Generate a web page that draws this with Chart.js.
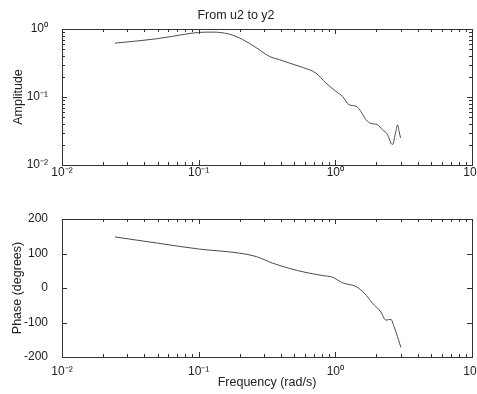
<!DOCTYPE html>
<html><head><meta charset="utf-8">
<script src="https://cdn.jsdelivr.net/npm/chart.js@4"></script>
<style>
html,body{margin:0;padding:0;background:#fff;width:477px;height:394px;overflow:hidden}
#top{position:absolute;left:0;top:0;width:477px;height:194px}
#bot{position:absolute;left:0;top:194px;width:477px;height:200px}
</style></head><body>
<div id="top"><canvas id="c1"></canvas></div>
<div id="bot"><canvas id="c2"></canvas></div>
<script>
// ---- data ----
const chartTitle = 'From u2 to y2';
const ampFreq = [0.0244,0.05,0.08,0.1,0.127,0.142,0.168,0.21,0.264,0.33,0.39,0.46,0.577,0.72,0.855,1.01,1.13,1.26,1.42,1.54,1.68,1.82,2.04,2.21,2.41,2.55,2.62,2.77,2.85,2.93,3.0];
const amp     = [0.62,0.72,0.84,0.89,0.90,0.89,0.84,0.70,0.53,0.395,0.354,0.316,0.272,0.225,0.16,0.121,0.102,0.077,0.073,0.061,0.046,0.041,0.039,0.033,0.028,0.021,0.020,0.031,0.039,0.031,0.025];
const phaseFreq = [0.0244,0.05,0.1,0.199,0.264,0.348,0.46,0.61,0.81,0.957,1.13,1.42,1.63,1.87,2.15,2.34,2.55,2.69,2.85,2.95,3.02];
const phase     = [148,130,113,101,91,72,57,45,36,31,15,4,-15,-44,-69,-93,-91,-112,-141,-160,-172];
const freqTicks = [0.01,0.1,1,10];
const freqTickLabels = ['10\u207B\u00B2','10\u207B\u00B9','10\u2070','10\u00B9'];
const ampTicks = [0.01,0.1,1];
const ampTickLabels = ['10\u207B\u00B2','10\u207B\u00B9','10\u2070'];
const phaseTicks = [-200,-100,0,100,200];

const FONT = "'Liberation Sans', Arial, Helvetica, sans-serif";
const TXT = '#222';

function logMinor(min, max){
  const out=[];
  for(let e=Math.floor(Math.log10(min)); e<=Math.ceil(Math.log10(max)); e++){
    for(let k=1;k<10;k++){const v=k*Math.pow(10,e); if(v>=min-1e-12 && v<=max+1e-12) out.push({v, major:k===1});}
  }
  return out;
}

const framePlugin = {
  id:'frame',
  afterDatasetsDraw(chart){
    const {ctx, chartArea:a, scales} = chart;
    ctx.save();
    ctx.strokeStyle='#333'; ctx.lineWidth=1;
    ctx.strokeRect(Math.round(a.left)+0.5, Math.round(a.top)+0.5, Math.round(a.right-a.left), Math.round(a.bottom-a.top));
    ctx.beginPath();
    const xs=scales.x;
    logMinor(xs.min, xs.max).forEach(t=>{
      const p=Math.round(xs.getPixelForValue(t.v))+0.5, L=t.major?5:3;
      ctx.moveTo(p,a.bottom); ctx.lineTo(p,a.bottom-L);
      ctx.moveTo(p,a.top); ctx.lineTo(p,a.top+L);
    });
    const ys=scales.y;
    let yt = ys.type==='logarithmic' ? logMinor(ys.min, ys.max) : phaseTicks.map(v=>({v,major:true}));
    yt.forEach(t=>{
      const p=Math.round(ys.getPixelForValue(t.v))+0.5, L=t.major?5:3;
      ctx.moveTo(a.left,p); ctx.lineTo(a.left+L,p);
      ctx.moveTo(a.right,p); ctx.lineTo(a.right-L,p);
    });
    ctx.stroke();
    ctx.restore();
  }
};

function xScale(withTitle, pad, h){
  return {
    type:'logarithmic', min:0.01, max:10,
    grid:{display:false}, border:{display:false},
    afterBuildTicks(s){ s.ticks = freqTicks.map(v=>({value:v})); },
    ticks:{ autoSkip:false, maxRotation:0, padding:pad, color:TXT, font:{family:FONT,size:12},
      callback(v){ const i=freqTicks.indexOf(v); return i>=0?freqTickLabels[i]:''; } },
    title: withTitle ? {display:true, text:'Frequency (rad/s)', color:TXT, font:{family:FONT,size:12.5}, padding:{top:0,bottom:4}} : {display:false},
    afterFit(s){ s.height=h; s.paddingLeft=0; s.paddingRight=0; }
  };
}

const lineStyle = { borderColor:'#4a4a4a', borderWidth:1, pointRadius:0, cubicInterpolationMode:'monotone', fill:false };

new Chart(document.getElementById('c1'), {
  type:'line',
  data:{ datasets:[Object.assign({ data: ampFreq.map((f,i)=>({x:f,y:amp[i]})) }, lineStyle)]},
  options:{
    animation:false, responsive:true, maintainAspectRatio:false,
    layout:{padding:{left:0,right:5,top:0,bottom:0}},
    plugins:{ legend:{display:false}, tooltip:{enabled:false},
      title:{display:true, text:chartTitle, color:TXT, font:{family:FONT,size:12.5,weight:'normal'}, padding:{top:8,bottom:6}} },
    scales:{
      x: xScale(false, -8, 29),
      y: { type:'logarithmic', min:0.01, max:1,
        grid:{display:false}, border:{display:false},
        afterBuildTicks(s){ s.ticks = ampTicks.map(v=>({value:v})); },
        ticks:{ autoSkip:false, padding:6, color:TXT, font:{family:FONT,size:12},
          callback(v){ const i=ampTicks.indexOf(v); return i>=0?ampTickLabels[i]:''; } },
        title:{display:true, text:'Amplitude', color:TXT, font:{family:FONT,size:12.5}, padding:{top:11,bottom:0}},
        afterFit(s){ s.width=62; s.paddingTop=0; s.paddingBottom=0; } }
    }
  },
  plugins:[framePlugin]
});

new Chart(document.getElementById('c2'), {
  type:'line',
  data:{ datasets:[Object.assign({ data: phaseFreq.map((f,i)=>({x:f,y:phase[i]})) }, lineStyle)]},
  options:{
    animation:false, responsive:true, maintainAspectRatio:false,
    layout:{padding:{left:0,right:5,top:25,bottom:0}},
    plugins:{ legend:{display:false}, tooltip:{enabled:false} },
    scales:{
      x: xScale(true, -1, 37),
      y: { type:'linear', min:-200, max:200,
        grid:{display:false}, border:{display:false},
        afterBuildTicks(s){ s.ticks = phaseTicks.map(v=>({value:v})); },
        ticks:{ autoSkip:false, padding:6, color:TXT, font:{family:FONT,size:12} },
        title:{display:true, text:'Phase (degrees)', color:TXT, font:{family:FONT,size:12.5}, padding:{top:10,bottom:0}},
        afterFit(s){ s.width=62; s.paddingTop=0; s.paddingBottom=0; } }
    }
  },
  plugins:[framePlugin]
});
</script>
</body></html>
